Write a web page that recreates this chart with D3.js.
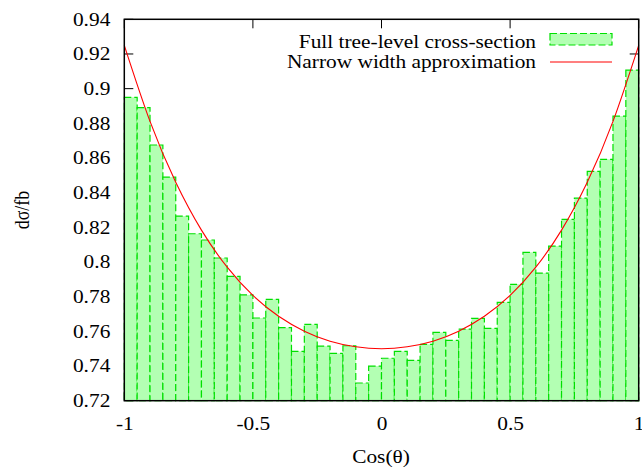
<!DOCTYPE html>
<html>
<head>
<meta charset="utf-8">
<script src="https://cdn.jsdelivr.net/npm/d3@7"></script>
<style>
  body { margin: 0; background: #fff; }
  svg { display: block; font-family: "Liberation Serif", "Times New Roman", serif; }
</style>
</head>
<body>
<svg id="chart" width="642" height="469"></svg>
<script>
// Histogram bins (Cos(theta) from -1 to 1, 40 bins) and heights
const binEdges = [-1, -0.95, -0.9, -0.85, -0.8, -0.75, -0.7, -0.65, -0.6, -0.55, -0.5,
  -0.45, -0.4, -0.35, -0.3, -0.25, -0.2, -0.15, -0.1, -0.05, 0,
  0.05, 0.1, 0.15, 0.2, 0.25, 0.3, 0.35, 0.4, 0.45, 0.5,
  0.55, 0.6, 0.65, 0.7, 0.75, 0.8, 0.85, 0.9, 0.95, 1];
const fullTree = [0.895, 0.889, 0.8675, 0.849, 0.8265, 0.8163, 0.8127, 0.8023, 0.7917, 0.781,
  0.7677, 0.7785, 0.7621, 0.7485, 0.764, 0.7515, 0.7473, 0.7517, 0.7302, 0.740,
  0.7445, 0.7485, 0.7433, 0.7525, 0.7594, 0.7548, 0.7613, 0.7675, 0.7617, 0.7767,
  0.7871, 0.8056, 0.7936, 0.8092, 0.8246, 0.8369, 0.8523, 0.8592, 0.8842, 0.9107];

// Narrow width approximation curve
const nwaX = [-1, -0.9, -0.8, -0.7, -0.6, -0.5, -0.4, -0.3, -0.2, -0.1, 0,
  0.1, 0.2, 0.3, 0.4, 0.5, 0.6, 0.7, 0.8, 0.9, 1];
const nwaY = [0.925, 0.8811, 0.846, 0.8184, 0.797, 0.7807, 0.7687, 0.7601, 0.7543, 0.7511, 0.75,
  0.7511, 0.7543, 0.7601, 0.7687, 0.7807, 0.797, 0.8184, 0.846, 0.8811, 0.925];

const xTicks = [-1, -0.5, 0, 0.5, 1];
const xTickLabels = ["-1", "-0.5", "0", "0.5", "1"];
const yTicks = [0.72, 0.74, 0.76, 0.78, 0.8, 0.82, 0.84, 0.86, 0.88, 0.9, 0.92, 0.94];
const yTickLabels = ["0.72", "0.74", "0.76", "0.78", "0.8", "0.82", "0.84", "0.86", "0.88", "0.9", "0.92", "0.94"];

const legendLabels = ["Full tree-level cross-section", "Narrow width approximation"];
const xTitle = "Cos(θ)";
const yTitle = "dσ/fb";

const L = 124.3, R = 638.7, T = 19.3, B = 400.7;
const svg = d3.select("#chart");
const x = d3.scaleLinear().domain([-1, 1]).range([L, R]);
const y = d3.scaleLinear().domain([0.72, 0.94]).range([B, T]);

const fs = 17.8;
const sx = 1.2; // horizontal stretch of the reference lettering
const tickLen = 9;

// inner ticks (drawn under the bars)
const tickG = svg.append("g").attr("stroke", "#000").attr("stroke-width", 1);
yTicks.forEach(v => {
  tickG.append("line").attr("x1", L).attr("x2", L + tickLen).attr("y1", y(v)).attr("y2", y(v));
  tickG.append("line").attr("x1", R).attr("x2", R - tickLen).attr("y1", y(v)).attr("y2", y(v));
});
xTicks.forEach(v => {
  tickG.append("line").attr("x1", x(v)).attr("x2", x(v)).attr("y1", B).attr("y2", B - tickLen);
  tickG.append("line").attr("x1", x(v)).attr("x2", x(v)).attr("y1", T).attr("y2", T + tickLen);
});

// axis labels via d3 axes (tick lines hidden)
const yAxis = d3.axisLeft(y).tickValues(yTicks).tickFormat((d, i) => yTickLabels[i]).tickSize(0).tickPadding(14 / sx);
const gy = svg.append("g").attr("transform", `translate(${L},0)`).call(yAxis);
gy.select(".domain").remove();
gy.selectAll("text").attr("font-size", fs).attr("font-family", "Liberation Serif").attr("fill", "#000")
  .attr("transform", `scale(${sx},1)`);

const xAxis = d3.axisBottom(x).tickValues(xTicks).tickFormat((d, i) => xTickLabels[i]).tickSize(0).tickPadding(16.5);
const gx = svg.append("g").attr("transform", `translate(0,${B})`).call(xAxis);
gx.select(".domain").remove();
gx.selectAll("text").attr("font-size", fs).attr("font-family", "Liberation Serif").attr("fill", "#000")
  .attr("transform", `scale(${sx},1)`);

// bars
const fillCol = "#b3ffb3", strokeCol = "#00e000";
svg.append("g").selectAll("rect").data(fullTree).join("rect")
  .attr("x", (d, i) => x(binEdges[i]))
  .attr("width", (d, i) => x(binEdges[i + 1]) - x(binEdges[i]))
  .attr("y", d => y(d))
  .attr("height", d => B - y(d))
  .attr("fill", fillCol)
  .attr("stroke", strokeCol)
  .attr("stroke-width", 1.2)
  .attr("stroke-dasharray", "7,3");

// curve
const line = d3.line().x(d => x(d[0])).y(d => y(d[1])).curve(d3.curveNatural);
svg.append("path")
  .datum(nwaX.map((v, i) => [v, nwaY[i]]))
  .attr("d", line)
  .attr("fill", "none")
  .attr("stroke", "#ff0000")
  .attr("stroke-width", 1.1);

// frame
svg.append("rect").attr("x", L).attr("y", T).attr("width", R - L).attr("height", B - T)
  .attr("fill", "none").attr("stroke", "#000").attr("stroke-width", 1.5);

// legend
const lg = svg.append("g");
lg.append("text").attr("transform", `translate(536,47.5) scale(${sx},1)`).attr("text-anchor", "end")
  .attr("font-size", fs).text(legendLabels[0]);
lg.append("text").attr("transform", `translate(536,68) scale(${sx},1)`).attr("text-anchor", "end")
  .attr("font-size", fs).text(legendLabels[1]);
lg.append("rect").attr("x", 550).attr("y", 33.5).attr("width", 62).attr("height", 11.5)
  .attr("fill", fillCol).attr("stroke", strokeCol).attr("stroke-width", 1.2).attr("stroke-dasharray", "7,3");
lg.append("line").attr("x1", 550).attr("x2", 612).attr("y1", 62).attr("y2", 62)
  .attr("stroke", "#ff0000").attr("stroke-width", 1.1);

// titles
svg.append("text").attr("transform", `translate(381,463) scale(${sx},1)`).attr("text-anchor", "middle")
  .attr("font-size", fs).text(xTitle);
svg.append("text").attr("transform", `translate(29,210) scale(${sx},1) rotate(-90)`).attr("text-anchor", "middle")
  .attr("font-size", fs).text(yTitle);
</script>
</body>
</html>
